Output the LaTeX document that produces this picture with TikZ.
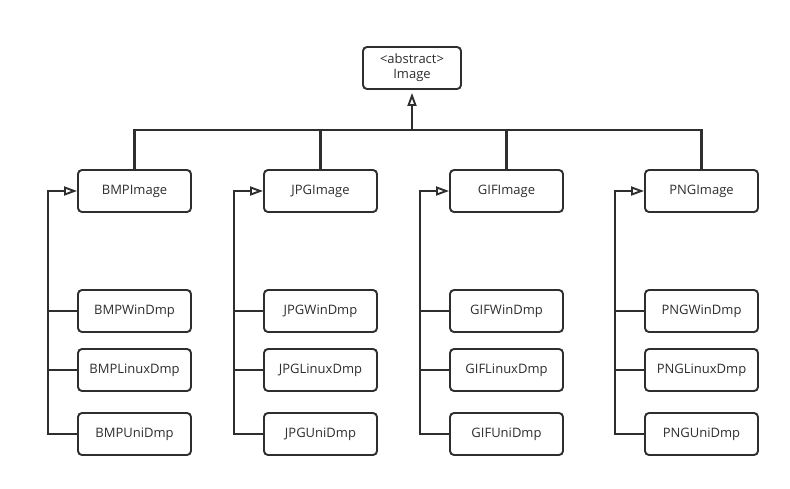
\documentclass[tikz,border=0pt]{standalone}
\usepackage{fontspec}
\setmainfont{Open Sans}
\usetikzlibrary{arrows.meta}
\definecolor{linegray}{HTML}{2E2E2E}
\tikzset{
  cls/.style={draw=linegray,line width=1.9pt,rounded corners=4pt,fill=white,
    minimum width=113pt,minimum height=42pt,inner sep=0pt,text=linegray,
    font=\fontsize{13}{15}\selectfont},
  link/.style={draw=linegray,line width=2.1pt},
  inh/.style={link,-{Triangle[open,length=13pt,width=9pt,line width=1.9pt]}}
}
\begin{document}
\begin{tikzpicture}[x=1pt,y=-1pt]
	\fill[white] (0,0) rectangle (790,488);
	\useasboundingbox (0,0) rectangle (790,488);
	\node[cls,minimum width=98pt,align=center] (Image) at (412,68) {<abstract>\\Image};
	% image classes
	\node[cls] (BMPImage) at (134.5,191) {BMPImage};
	\node[cls] (JPGImage) at (320.5,191) {JPGImage};
	\node[cls] (GIFImage) at (506.5,191) {GIFImage};
	\node[cls] (PNGImage) at (701.5,191) {PNGImage};
	% dumps
	\node[cls] (BMPWinDmp) at (134.5,311) {BMPWinDmp};
	\node[cls] (BMPLinuxDmp) at (134.5,370) {BMPLinuxDmp};
	\node[cls] (BMPUniDmp) at (134.5,434) {BMPUniDmp};
	\node[cls] (JPGWinDmp) at (320.5,311) {JPGWinDmp};
	\node[cls] (JPGLinuxDmp) at (320.5,370) {JPGLinuxDmp};
	\node[cls] (JPGUniDmp) at (320.5,434) {JPGUniDmp};
	\node[cls] (GIFWinDmp) at (506.5,311) {GIFWinDmp};
	\node[cls] (GIFLinuxDmp) at (506.5,370) {GIFLinuxDmp};
	\node[cls] (GIFUniDmp) at (506.5,434) {GIFUniDmp};
	\node[cls] (PNGWinDmp) at (701.5,311) {PNGWinDmp};
	\node[cls] (PNGLinuxDmp) at (701.5,370) {PNGLinuxDmp};
	\node[cls] (PNGUniDmp) at (701.5,434) {PNGUniDmp};
	% bus and trunks
	\coordinate (bus) at (412,130);
	\coordinate (bmpfoot) at (48,434);
	\coordinate (jpgfoot) at (234,434);
	\coordinate (giffoot) at (420,434);
	\coordinate (pngfoot) at (615,434);
	\draw[inh,shorten >=3pt] (bus) -- (Image);
	\draw[link] (BMPImage.north) |- (bus) -| (PNGImage.north);
	\draw[link] (JPGImage.north) |- (bus);
	\draw[link] (GIFImage.north) |- (bus);
	\draw[inh] (BMPUniDmp.west) -- (bmpfoot) |- (BMPImage.west);
	\draw[link] (BMPWinDmp.west) -- (bmpfoot |- BMPWinDmp.west);
	\draw[link] (BMPLinuxDmp.west) -- (bmpfoot |- BMPLinuxDmp.west);
	\draw[inh] (JPGUniDmp.west) -- (jpgfoot) |- (JPGImage.west);
	\draw[link] (JPGWinDmp.west) -- (jpgfoot |- JPGWinDmp.west);
	\draw[link] (JPGLinuxDmp.west) -- (jpgfoot |- JPGLinuxDmp.west);
	\draw[inh] (GIFUniDmp.west) -- (giffoot) |- (GIFImage.west);
	\draw[link] (GIFWinDmp.west) -- (giffoot |- GIFWinDmp.west);
	\draw[link] (GIFLinuxDmp.west) -- (giffoot |- GIFLinuxDmp.west);
	\draw[inh] (PNGUniDmp.west) -- (pngfoot) |- (PNGImage.west);
	\draw[link] (PNGWinDmp.west) -- (pngfoot |- PNGWinDmp.west);
	\draw[link] (PNGLinuxDmp.west) -- (pngfoot |- PNGLinuxDmp.west);
\end{tikzpicture}
\end{document}
